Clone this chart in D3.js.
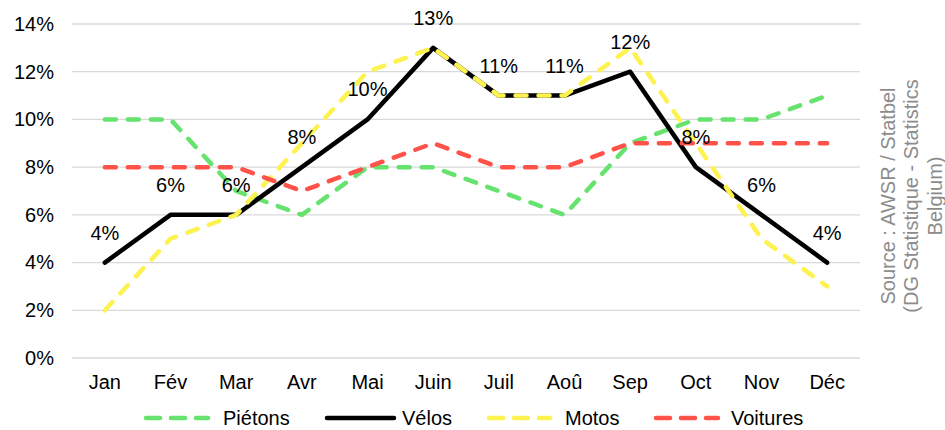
<!DOCTYPE html>
<html>
<head>
<meta charset="utf-8">
<script src="https://cdn.jsdelivr.net/npm/d3@7"></script>
<style>
  body { margin: 0; background: #fff; }
  text { font-family: "Liberation Sans", Arial, sans-serif; }
</style>
</head>
<body>
<div id="root"></div>
<script>
const months = ["Jan", "Fév", "Mar", "Avr", "Mai", "Juin", "Juil", "Aoû", "Sep", "Oct", "Nov", "Déc"];
const pietons = [10, 10, 7, 6, 8, 8, 7, 6, 9, 10, 10, 11];
const velos = [4, 6, 6, 8, 10, 13, 11, 11, 12, 8, 6, 4];
const motos = [2, 5, 6, 9, 12, 13, 11, 11, 13, 9, 5, 3];
const voitures = [8, 8, 8, 7, 8, 9, 8, 8, 9, 9, 9, 9];
const yTicks = [0, 2, 4, 6, 8, 10, 12, 14];
const sourceLines = ["Source : AWSR / Statbel", "(DG Statistique - Statistics", "Belgium)"];

const series = [
  { name: "Piétons", values: pietons, color: "#66e36e", dash: "11,12" },
  { name: "Vélos", values: velos, color: "#000000", dash: null },
  { name: "Motos", values: motos, color: "#fdf250", dash: "11,12" },
  { name: "Voitures", values: voitures, color: "#ff5249", dash: "11,12" }
];

const width = 945, height = 430;
const fontSize = 20;
const svg = d3.select("#root").append("svg")
  .attr("width", width)
  .attr("height", height);

const x = d3.scaleBand().domain(months).range([72, 860]);
const y = d3.scaleLinear().domain([0, 14]).range([358, 24]);
const cx = m => x(m) + x.bandwidth() / 2;

// grid
svg.append("g")
  .selectAll("line")
  .data(yTicks)
  .enter()
  .append("line")
  .attr("x1", 72).attr("x2", 860)
  .attr("y1", d => y(d)).attr("y2", d => y(d))
  .attr("stroke", "#d9d9d9")
  .attr("stroke-width", 1.3);

// y axis
const yAxis = svg.append("g")
  .attr("transform", "translate(60,0)")
  .call(d3.axisLeft(y).tickValues(yTicks).tickFormat(d => d + "%").tickSize(0));
yAxis.select(".domain").remove();
yAxis.selectAll("text")
  .attr("x", -6)
  .attr("font-size", fontSize)
  .attr("font-family", "Liberation Sans, Arial, sans-serif")
  .attr("fill", "#000");

// x axis
const xAxis = svg.append("g")
  .attr("transform", "translate(0,372)")
  .call(d3.axisBottom(x).tickSize(0));
xAxis.select(".domain").remove();
xAxis.selectAll("text")
  .attr("font-size", fontSize)
  .attr("font-family", "Liberation Sans, Arial, sans-serif")
  .attr("fill", "#000");

// lines
const line = d3.line()
  .x((d, i) => cx(months[i]))
  .y(d => y(d));
series.forEach(s => {
  svg.append("path")
    .datum(s.values)
    .attr("d", line)
    .attr("fill", "none")
    .attr("stroke", s.color)
    .attr("stroke-width", 4.5)
    .attr("stroke-linecap", "round")
    .attr("stroke-linejoin", "round")
    .attr("stroke-dasharray", s.dash);
});

// labels for Vélos
svg.append("g")
  .selectAll("text")
  .data(velos)
  .enter()
  .append("text")
  .attr("x", (d, i) => cx(months[i]))
  .attr("y", d => y(d) - 23)
  .attr("text-anchor", "middle")
  .attr("font-size", fontSize)
  .attr("fill", "#000")
  .text(d => d + "%");

// legend
const legendLine = [[146, 208], [327, 394], [489, 550], [656, 718]];
const legendText = [223, 402, 565, 731];
const legend = svg.append("g");
series.forEach((s, i) => {
  legend.append("line")
    .attr("x1", legendLine[i][0]).attr("x2", legendLine[i][1])
    .attr("y1", 418).attr("y2", 418)
    .attr("stroke", s.color)
    .attr("stroke-width", 4.5)
    .attr("stroke-linecap", "round")
    .attr("stroke-dasharray", s.dash ? "14,11" : null);
  legend.append("text")
    .attr("x", legendText[i])
    .attr("y", 425)
    .attr("font-size", fontSize)
    .attr("fill", "#000")
    .text(s.name);
});

// source note
svg.append("g")
  .attr("transform", "translate(911,196) rotate(-90)")
  .selectAll("text")
  .data(sourceLines)
  .enter()
  .append("text")
  .attr("x", 0)
  .attr("y", (d, i) => (i - 1) * 23.5 + 7)
  .attr("text-anchor", "middle")
  .attr("font-size", fontSize)
  .attr("fill", "#8c8c8c")
  .text(d => d);
</script>
</body>
</html>
